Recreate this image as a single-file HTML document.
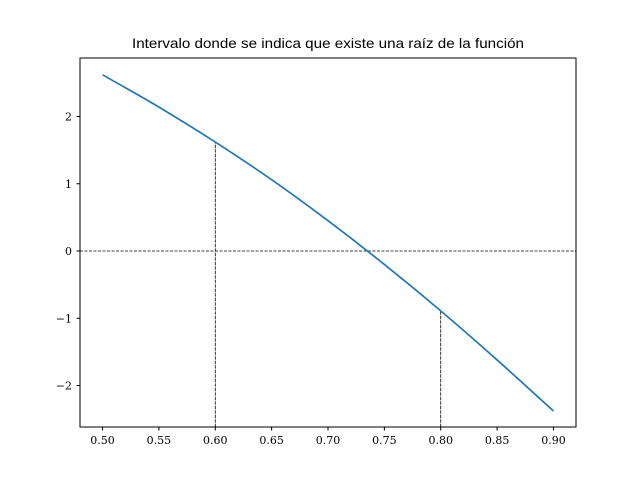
<!DOCTYPE html>
<html><head><meta charset="utf-8"><style>
body{margin:0;background:#fff}
svg text{font-family:"DejaVu Serif","Liberation Serif",serif;font-size:11px}
</style></head><body>
<svg width="640" height="480" id="c">
<rect width="640" height="480" fill="#fff"/>
<text x="328" y="48" text-anchor="middle" style="font-family:'Liberation Sans',sans-serif;font-size:14px" textLength="392" lengthAdjust="spacingAndGlyphs">Intervalo donde se indica que existe una raíz de la función</text>
<g id="plot"></g>
<rect x="80" y="58" width="496" height="369" fill="none" stroke="#000" stroke-width="1"/>
</svg>
<script>
const xs=[0.5,0.55,0.6,0.65,0.7,0.75,0.8,0.85,0.9];
const ys=[2.62,2.14,1.62,1.06,0.45,-0.20,-0.89,-1.62,-2.38];
const xTicks=[0.5,0.55,0.6,0.65,0.7,0.75,0.8,0.85,0.9];
const yTicks=[-2,-1,0,1,2];
const marks=[0.6,0.8];
const markY=[1.62,-0.89];
const X=v=>80+(v-0.48)/(0.44)*496;
const Y=v=>251-v*67.25;
const NS='http://www.w3.org/2000/svg';
const g=document.getElementById('plot');
function mk(t,a){const e=document.createElementNS(NS,t);for(const k in a)e.setAttribute(k,a[k]);g.appendChild(e);return e;}
xTicks.forEach(v=>{
 const l=mk('line',{x1:X(v),x2:X(v),y1:427,y2:430.5,stroke:'#000'});
 
 
 const t=mk('text',{x:X(v),y:444,'text-anchor':'middle'});t.textContent=v.toFixed(2);
 
 
});
yTicks.forEach(v=>{
 const l=mk('line',{x1:76.5,x2:80,y1:Y(v),y2:Y(v),stroke:'#000'});
 
 
 const t=mk('text',{x:72,y:Y(v)+4,'text-anchor':'end'});t.textContent=(v<0?'\u2212':'')+Math.abs(v);
 
 
});
const h=mk('line',{x1:80,x2:576,y1:Y(0),y2:Y(0),stroke:'#000','stroke-width':0.8,'stroke-dasharray':'3,1.5'});


marks.forEach((m,i)=>{
 const r=mk('line',{x1:X(m),x2:X(m),y1:427,y2:Y(markY[i]),stroke:'#d62728','stroke-width':0.6,'stroke-dasharray':'3,1.5','stroke-dashoffset':2,opacity:0.6});
 
 
 const b=mk('line',{x1:X(m),x2:X(m),y1:427,y2:Y(markY[i]),stroke:'#000','stroke-width':0.8,'stroke-dasharray':'3,1.5'});
 
 
});
const P=xs.map((x,i)=>[X(x),Y(ys[i])]);
let d='M'+P[0][0]+','+P[0][1];
for(let i=0;i<P.length-1;i++){
 const p0=P[Math.max(0,i-1)],p1=P[i],p2=P[i+1],p3=P[Math.min(P.length-1,i+2)];
 const c1=[p1[0]+(p2[0]-p0[0])/6,p1[1]+(p2[1]-p0[1])/6];
 const c2=[p2[0]-(p3[0]-p1[0])/6,p2[1]-(p3[1]-p1[1])/6];
 d+=' C'+c1+' '+c2+' '+p2;
}
const p=mk('path',{d:d,fill:'none',stroke:'#1f77b4','stroke-width':1.7});


</script>
</body></html>
